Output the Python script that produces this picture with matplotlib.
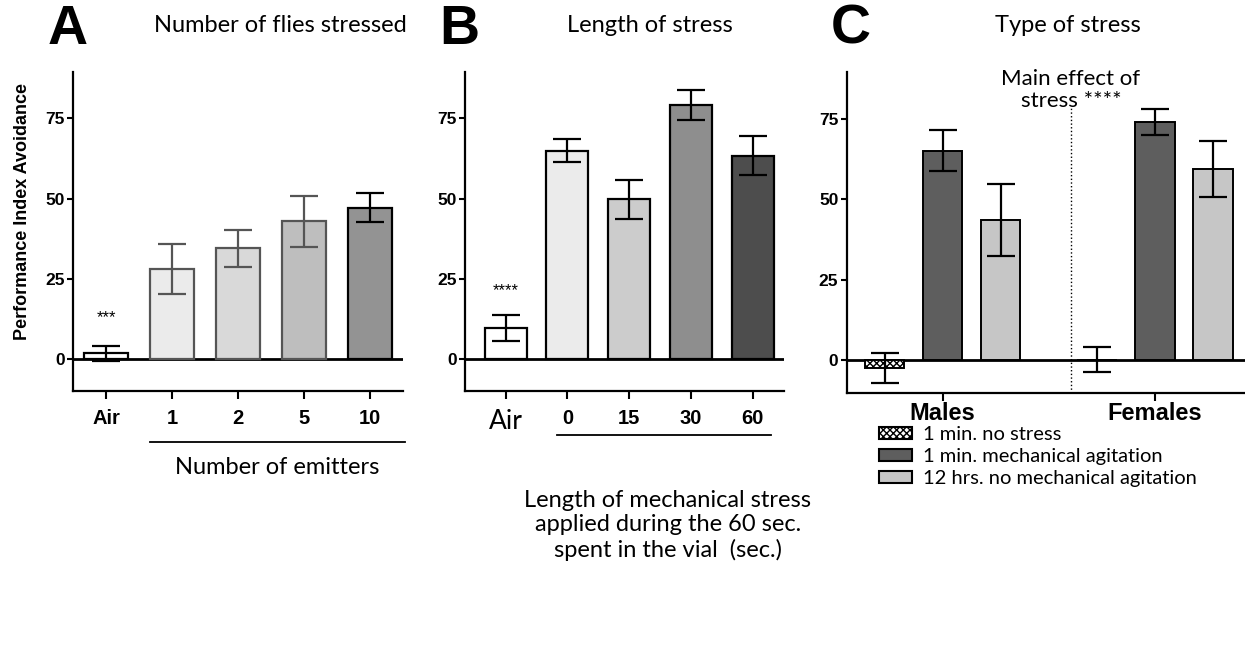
import numpy as np
import matplotlib
matplotlib.use('Agg')
import matplotlib.pyplot as plt
from matplotlib.patches import Patch

# panel A: number of flies stressed
a_labels = ['Air', '1', '2', '5', '10']
a_means = [1.7, 28.1, 34.5, 42.9, 47.2]
a_errs = [2.2, 7.8, 5.7, 7.9, 4.6]
a_colors = ['white', '#ebebeb', '#d9d9d9', '#bebebe', '#939393']
a_edges = ['black', '#555555', '#555555', '#555555', 'black']

# panel B: length of stress
b_labels = ['Air', '0', '15', '30', '60']
b_means = [9.6, 65.0, 49.8, 79.3, 63.4]
b_errs = [4.1, 3.7, 6.1, 4.7, 6.1]
b_colors = ['white', '#ebebeb', '#cccccc', '#8e8e8e', '#4d4d4d']

# panel C: type of stress
c_groups = ['Males', 'Females']
c_series = ['1 min. no stress', '1 min. mechanical agitation', '12 hrs. no mechanical agitation']
c_males = [-2.4, 65.1, 43.6]
c_males_err = [4.6, 6.3, 11.1]
c_females = [0.2, 74.0, 59.4]
c_females_err = [3.9, 4.1, 8.7]
c_colors = ['white', '#5e5e5e', '#c6c6c6']
c_hatch = ['xxxxx', None, None]

sans = 'Liberation Sans'
cal = 'Lato'

fig = plt.figure(figsize=(12.45, 6.61), dpi=100)

def style(ax):
    ax.set_ylim(-10, 89.5)
    ax.set_yticks([0, 25, 50, 75])
    ax.spines['top'].set_visible(False)
    ax.spines['right'].set_visible(False)
    ax.spines['left'].set_linewidth(1.6)
    ax.spines['bottom'].set_linewidth(1.6)
    ax.axhline(0, color='black', lw=2, zorder=1)
    ax.tick_params(axis='y', length=4, width=1.5, pad=2)
    ax.tick_params(axis='x', length=6, width=1.5)
    for t in ax.get_yticklabels():
        t.set_fontfamily(sans)
        t.set_fontweight('bold')
        t.set_fontsize(12.5)

bot = 1 - 391 / 661.
h = (391 - 72) / 661.

# ---- A
axA = fig.add_axes([73 / 1245., bot, 330 / 1245., h])
xa = np.arange(len(a_labels))
axA.bar(xa, a_means, width=0.68, color=a_colors, edgecolor=a_edges, linewidth=1.6, zorder=2)
for i in range(len(xa)):
    axA.errorbar(xa[i], a_means[i], yerr=a_errs[i], color=a_edges[i], capsize=10, elinewidth=1.6, capthick=1.6, zorder=3)
axA.set_xlim(-0.5, 4.5)
axA.set_xticks(xa)
axA.set_xticklabels(a_labels, fontfamily=sans, fontweight='bold', fontsize=14.5)
axA.tick_params(axis='x', pad=7)
style(axA)
axA.text(0, 13, '***', ha='center', va='center', fontsize=12, fontfamily=sans)
axA.plot([0.233, 1.006], [-0.16, -0.16], color='black', lw=1.3, transform=axA.transAxes, clip_on=False)
axA.text(0.618, -0.24, 'Number of emitters', ha='center', va='center', fontsize=17, fontfamily=cal, transform=axA.transAxes)

# ---- B
axB = fig.add_axes([465 / 1245., bot, 319 / 1245., h])
xb = np.arange(len(b_labels))
axB.bar(xb, b_means, width=0.68, color=b_colors, edgecolor='black', linewidth=1.6, zorder=2)
axB.errorbar(xb, b_means, yerr=b_errs, fmt='none', ecolor='black', capsize=10, elinewidth=1.6, capthick=1.6, zorder=3)
axB.set_xlim(-0.66, 4.51)
axB.set_xticks(xb)
axB.set_xticklabels(b_labels, fontfamily=sans, fontweight='bold', fontsize=14.5)
axB.tick_params(axis='x', pad=7)
lab = axB.get_xticklabels()[0]
lab.set_fontweight('normal')
lab.set_fontfamily(cal)
lab.set_fontsize(19)
style(axB)
axB.text(0, 21.2, '****', ha='center', va='center', fontsize=12, fontfamily=sans)
axB.plot([0.287, 0.959], [-0.138, -0.138], color='black', lw=1.3, transform=axB.transAxes, clip_on=False)
axB.text(0.636, -0.31, 'Length of mechanical stress\napplied during the 60 sec.\nspent in the vial  (sec.)',
         ha='center', va='top', fontsize=17, fontfamily=cal, linespacing=1.19, transform=axB.transAxes)

# ---- C
axC = fig.add_axes([846.7 / 1245., 1 - 392.7 / 661., 398.3 / 1245., (392.7 - 72) / 661.])
xm = np.arange(3)
xf = xm + 3.66
for i in range(3):
    axC.bar([xm[i], xf[i]], [c_males[i], c_females[i]], width=0.68, color=c_colors[i],
            edgecolor='black', linewidth=1.4, hatch=c_hatch[i], zorder=2)
axC.errorbar(xm, c_males, yerr=c_males_err, fmt='none', ecolor='black', capsize=10, elinewidth=1.6, capthick=1.6, zorder=3)
axC.errorbar(xf, c_females, yerr=c_females_err, fmt='none', ecolor='black', capsize=10, elinewidth=1.6, capthick=1.6, zorder=3)
axC.set_xlim(-0.655, 6.21)
axC.set_xticks([xm[1], xf[1]])
axC.set_xticklabels(c_groups, fontfamily=sans, fontweight='bold', fontsize=17)
axC.tick_params(axis='x', pad=1)
style(axC)
axC.vlines(3.21, -10, 78.5, colors='black', linestyles=':', lw=1)
axC.text(3.21, 84, 'Main effect of\nstress ****', ha='center', va='center', fontsize=16, fontfamily=cal, linespacing=1.1)
handles = [Patch(facecolor=c_colors[i], edgecolor='black', hatch=c_hatch[i], linewidth=1.5) for i in range(3)]
fig.legend(handles, c_series, loc='upper left', bbox_to_anchor=(879 / 1245., 1 - 426 / 661.), frameon=False,
           prop={'family': cal, 'size': 14.5}, handlelength=1.65, handleheight=0.55, handletextpad=0.55,
           labelspacing=0.25, borderaxespad=0, borderpad=0)

# titles and panel letters
fig.text(280 / 1245., 1 - 25 / 661., 'Number of flies stressed', ha='center', va='center', fontsize=17, fontfamily=cal)
fig.text(650 / 1245., 1 - 25 / 661., 'Length of stress', ha='center', va='center', fontsize=17, fontfamily=cal)
fig.text(1068 / 1245., 1 - 25 / 661., 'Type of stress', ha='center', va='center', fontsize=17, fontfamily=cal)
for x, s in [(68, 'A'), (459, 'B'), (851, 'C')]:
    fig.text(x / 1245., 1 - 30 / 661., s, ha='center', va='center', fontsize=40, fontweight='bold', fontfamily=sans)
fig.text(23 / 1245., 1 - 212 / 661., 'Performance Index Avoidance', rotation=90, ha='center', va='center',
         fontsize=13, fontweight='bold', fontfamily=sans)

fig.savefig('out.png', dpi=100)
